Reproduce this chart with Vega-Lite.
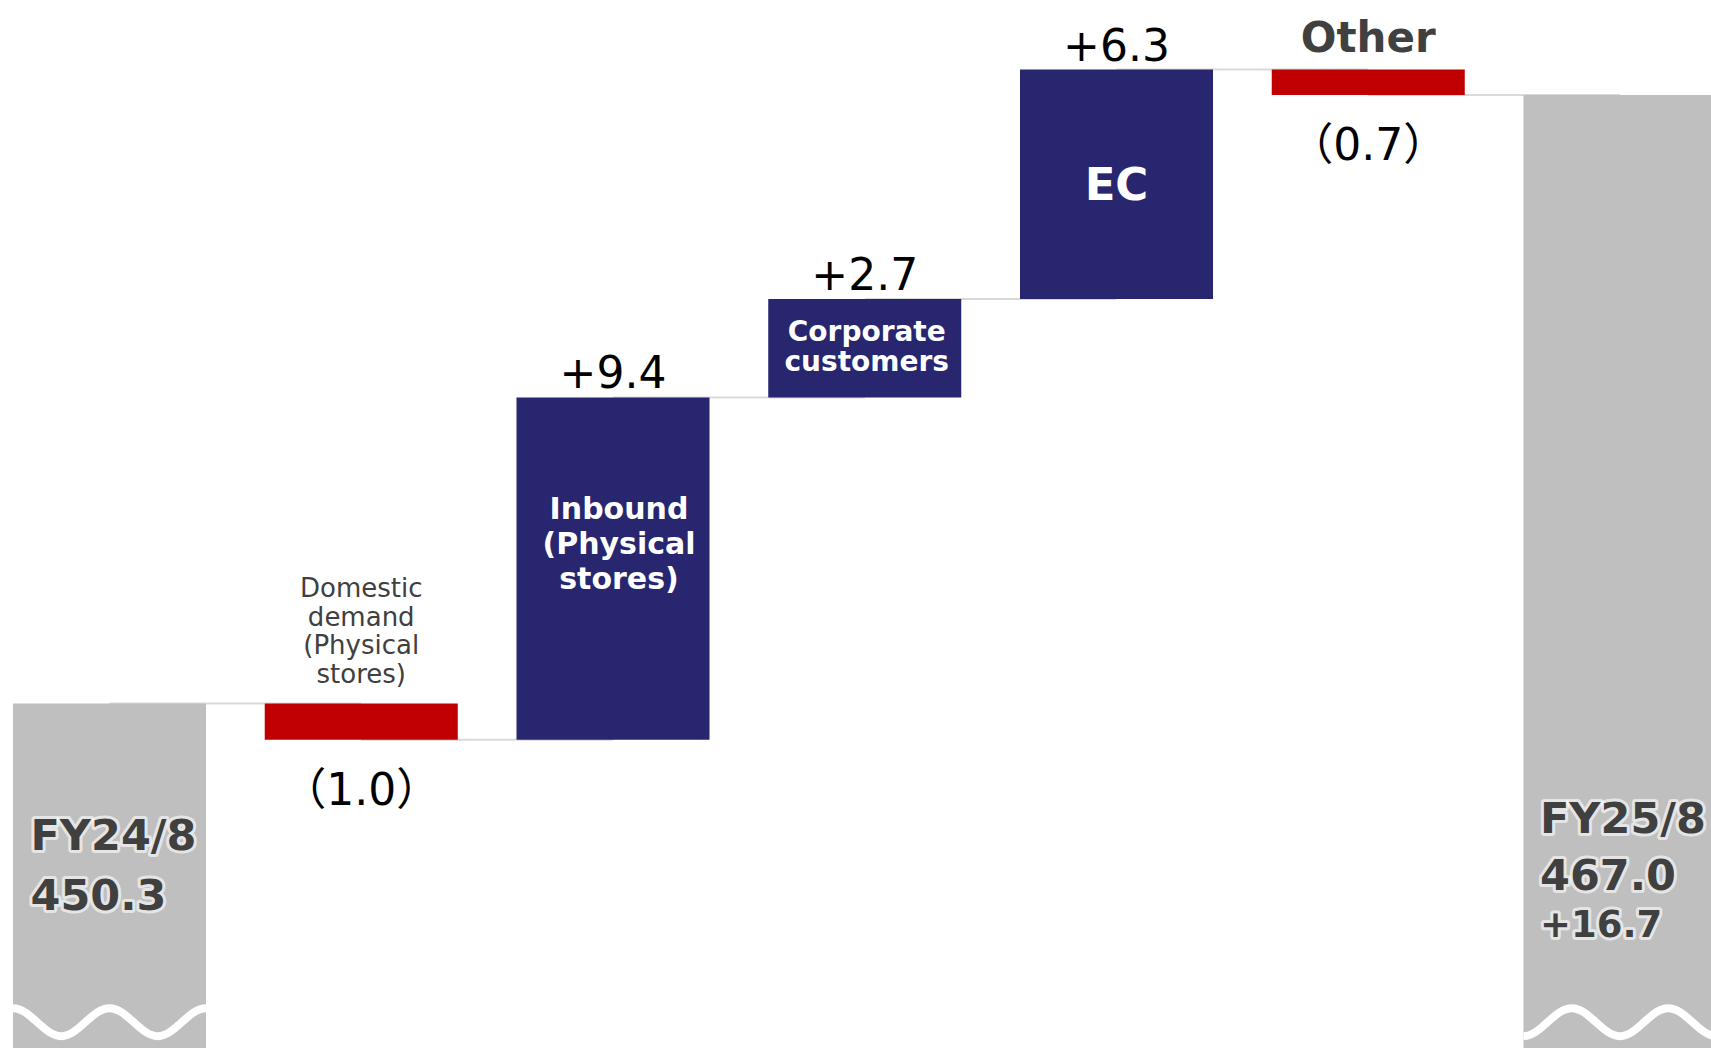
{
  "$schema": "https://vega.github.io/schema/vega-lite/v6.json",
  "width": 1711,
  "height": 1048,
  "padding": 0,
  "autosize": {"type": "none"},
  "background": "#ffffff",
  "config": {"view": {"stroke": null}, "font": "DejaVu Sans, Noto Sans CJK JP"},
  "data": {
    "values": [
      {"cat": "FY24/8", "kind": "total", "start": 0, "end": 450.3, "lines": ["FY24/8", "450.3"]},
      {"cat": "Domestic", "kind": "decrease", "start": 450.3, "end": 449.3, "change": "（1.0）", "lines": ["Domestic", "demand", "(Physical", "stores)"]},
      {"cat": "Inbound", "kind": "increase", "start": 449.3, "end": 458.7, "change": "+9.4", "lines": ["Inbound", "(Physical", "stores)"]},
      {"cat": "Corporate", "kind": "increase", "start": 458.7, "end": 461.4, "change": "+2.7", "lines": ["Corporate", "customers"]},
      {"cat": "EC", "kind": "increase", "start": 461.4, "end": 467.7, "change": "+6.3", "lines": ["EC"]},
      {"cat": "Other", "kind": "decrease", "start": 467.7, "end": 467.0, "change": "（0.7）", "lines": ["Other"]},
      {"cat": "FY25/8", "kind": "total", "start": 0, "end": 467.0, "change": "+16.7", "lines": ["FY25/8", "467.0"]}
    ]
  },
  "encoding": {
    "x": {
      "field": "cat", "type": "nominal", "axis": null,
      "scale": {
        "domain": ["FY24/8", "Domestic", "Inbound", "Corporate", "EC", "Other", "FY25/8"],
        "range": [0, 1729.5], "paddingInner": 0.2333, "paddingOuter": 0.0516
      }
    }
  },
  "layer": [
    {
      "transform": [
        {"window": [{"op": "lead", "field": "cat", "as": "next"}]},
        {"filter": "datum.next != null"}
      ],
      "mark": {"type": "rule", "color": "#d9d9d9", "strokeWidth": 2},
      "encoding": {
        "x2": {"field": "next"},
        "y": {"field": "end", "type": "quantitative", "axis": null, "scale": {"domain": [440.84, 469.61], "nice": false, "zero": false}}
      }
    },
    {
      "mark": {"type": "bar", "clip": true},
      "encoding": {
        "y": {"field": "start", "type": "quantitative", "axis": null, "scale": {"domain": [440.84, 469.61], "nice": false, "zero": false}},
        "y2": {"field": "end"},
        "color": {"field": "kind", "type": "nominal", "legend": null, "scale": {"domain": ["total", "increase", "decrease"], "range": ["#bfbfbf", "#27266e", "#c00000"]}}
      }
    },
    {
      "transform": [{"filter": "datum.kind == 'total'"}],
      "mark": {"type": "point", "filled": false, "strokeWidth": 8, "opacity": 1, "color": "#ffffff", "size": 37249, "clip": true},
      "encoding": {
        "y": {"datum": 441.55, "type": "quantitative", "axis": null, "scale": {"domain": [440.84, 469.61], "nice": false, "zero": false}},
        "shape": {
          "field": "cat", "type": "nominal", "legend": null,
          "scale": {
            "domain": ["FY24/8", "FY25/8"],
            "range": [
              "M-1,-0.145 C-0.82,-0.145 -0.68,0.145 -0.5,0.145 C-0.32,0.145 -0.18,-0.145 0,-0.145 C0.18,-0.145 0.32,0.145 0.5,0.145 C0.68,0.145 0.82,-0.145 1,-0.145",
              "M-1,0.145 C-0.82,0.145 -0.68,-0.145 -0.5,-0.145 C-0.32,-0.145 -0.18,0.145 0,0.145 C0.18,0.145 0.32,-0.145 0.5,-0.145 C0.68,-0.145 0.82,0.145 1,0.145"
            ]
          }
        }
      }
    },
    {
      "transform": [{"filter": "datum.kind == 'increase'"}],
      "mark": {"type": "text", "fontSize": 44, "color": "#000000", "baseline": "alphabetic", "align": "center", "dy": -9},
      "encoding": {
        "y": {"field": "end", "type": "quantitative", "axis": null, "scale": {"domain": [440.84, 469.61], "nice": false, "zero": false}},
        "text": {"field": "change"}
      }
    },
    {
      "transform": [{"filter": "datum.kind == 'decrease'"}],
      "mark": {"type": "text", "fontSize": 44, "color": "#000000", "baseline": "alphabetic", "align": "center", "dy": 65},
      "encoding": {
        "y": {"field": "end", "type": "quantitative", "axis": null, "scale": {"domain": [440.84, 469.61], "nice": false, "zero": false}},
        "text": {"field": "change"}
      }
    },
    {
      "transform": [{"filter": "datum.cat == 'Domestic'"}],
      "mark": {"type": "text", "fontSize": 26, "lineHeight": 28.5, "color": "#404040", "baseline": "alphabetic", "align": "center", "dy": -106},
      "encoding": {
        "y": {"field": "start", "type": "quantitative", "axis": null, "scale": {"domain": [440.84, 469.61], "nice": false, "zero": false}},
        "text": {"field": "lines"}
      }
    },
    {
      "transform": [{"filter": "datum.cat == 'Other'"}],
      "mark": {"type": "text", "fontSize": 42, "fontWeight": "bold", "color": "#404040", "baseline": "bottom", "align": "center", "dy": -9},
      "encoding": {
        "y": {"field": "start", "type": "quantitative", "axis": null, "scale": {"domain": [440.84, 469.61], "nice": false, "zero": false}},
        "text": {"field": "lines"}
      }
    },
    {
      "transform": [{"filter": "datum.cat == 'Inbound'"}, {"calculate": "(datum.start + datum.end) / 2", "as": "mid"}],
      "mark": {"type": "text", "fontSize": 30, "fontWeight": "bold", "lineHeight": 35, "color": "#ffffff", "baseline": "middle", "align": "center", "dy": -59, "dx": 6},
      "encoding": {
        "y": {"field": "mid", "type": "quantitative", "axis": null, "scale": {"domain": [440.84, 469.61], "nice": false, "zero": false}},
        "text": {"field": "lines"}
      }
    },
    {
      "transform": [{"filter": "datum.cat == 'Corporate'"}, {"calculate": "(datum.start + datum.end) / 2", "as": "mid"}],
      "mark": {"type": "text", "fontSize": 28, "fontWeight": "bold", "lineHeight": 30, "color": "#ffffff", "baseline": "middle", "align": "center", "dy": -15, "dx": 2},
      "encoding": {
        "y": {"field": "mid", "type": "quantitative", "axis": null, "scale": {"domain": [440.84, 469.61], "nice": false, "zero": false}},
        "text": {"field": "lines"}
      }
    },
    {
      "transform": [{"filter": "datum.cat == 'EC'"}, {"calculate": "(datum.start + datum.end) / 2", "as": "mid"}],
      "mark": {"type": "text", "fontSize": 45, "fontWeight": "bold", "color": "#ffffff", "baseline": "middle", "align": "center", "dy": 2},
      "encoding": {
        "y": {"field": "mid", "type": "quantitative", "axis": null, "scale": {"domain": [440.84, 469.61], "nice": false, "zero": false}},
        "text": {"field": "lines"}
      }
    },
    {
      "transform": [{"filter": "datum.cat == 'FY24/8'"}],
      "mark": {"type": "text", "fontSize": 43, "fontWeight": "bold", "lineHeight": 60, "color": "#ffffff", "stroke": "#ffffff", "strokeWidth": 6, "strokeOpacity": 0.6, "strokeJoin": "round", "baseline": "alphabetic", "align": "left", "dx": -79},
      "encoding": {
        "y": {"datum": 446.265, "type": "quantitative", "axis": null, "scale": {"domain": [440.84, 469.61], "nice": false, "zero": false}},
        "text": {"field": "lines"}
      }
    },
    {
      "transform": [{"filter": "datum.cat == 'FY24/8'"}],
      "mark": {"type": "text", "fontSize": 43, "fontWeight": "bold", "lineHeight": 60, "color": "#404040", "baseline": "alphabetic", "align": "left", "dx": -79},
      "encoding": {
        "y": {"datum": 446.265, "type": "quantitative", "axis": null, "scale": {"domain": [440.84, 469.61], "nice": false, "zero": false}},
        "text": {"field": "lines"}
      }
    },
    {
      "transform": [{"filter": "datum.cat == 'FY25/8'"}],
      "mark": {"type": "text", "fontSize": 43, "fontWeight": "bold", "lineHeight": 57, "color": "#ffffff", "stroke": "#ffffff", "strokeWidth": 6, "strokeOpacity": 0.6, "strokeJoin": "round", "baseline": "alphabetic", "align": "left", "dx": -80},
      "encoding": {
        "y": {"datum": 446.744, "type": "quantitative", "axis": null, "scale": {"domain": [440.84, 469.61], "nice": false, "zero": false}},
        "text": {"field": "lines"}
      }
    },
    {
      "transform": [{"filter": "datum.cat == 'FY25/8'"}],
      "mark": {"type": "text", "fontSize": 43, "fontWeight": "bold", "lineHeight": 57, "color": "#404040", "baseline": "alphabetic", "align": "left", "dx": -80},
      "encoding": {
        "y": {"datum": 446.744, "type": "quantitative", "axis": null, "scale": {"domain": [440.84, 469.61], "nice": false, "zero": false}},
        "text": {"field": "lines"}
      }
    },
    {
      "transform": [{"filter": "datum.cat == 'FY25/8'"}],
      "mark": {"type": "text", "fontSize": 37, "fontWeight": "bold", "color": "#ffffff", "stroke": "#ffffff", "strokeWidth": 6, "strokeOpacity": 0.6, "strokeJoin": "round", "baseline": "alphabetic", "align": "left", "dx": -80},
      "encoding": {
        "y": {"datum": 443.89, "type": "quantitative", "axis": null, "scale": {"domain": [440.84, 469.61], "nice": false, "zero": false}},
        "text": {"field": "change"}
      }
    },
    {
      "transform": [{"filter": "datum.cat == 'FY25/8'"}],
      "mark": {"type": "text", "fontSize": 37, "fontWeight": "bold", "color": "#404040", "baseline": "alphabetic", "align": "left", "dx": -80},
      "encoding": {
        "y": {"datum": 443.89, "type": "quantitative", "axis": null, "scale": {"domain": [440.84, 469.61], "nice": false, "zero": false}},
        "text": {"field": "change"}
      }
    }
  ]
}
